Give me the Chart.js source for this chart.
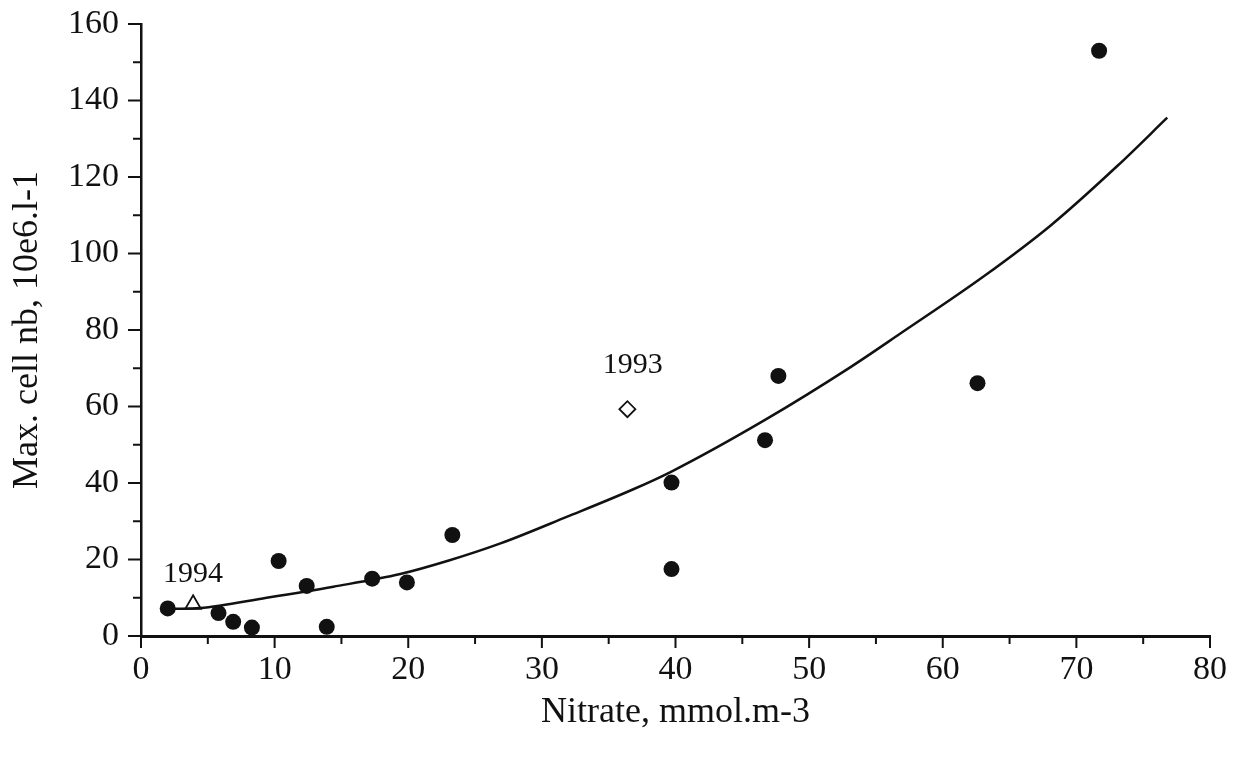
<!DOCTYPE html>
<html>
<head>
<meta charset="utf-8">
<script src="https://cdn.jsdelivr.net/npm/chart.js@4.4.1/dist/chart.umd.min.js"></script>
<style>
  html, body { margin: 0; padding: 0; background: #fff; }
  #chart { display: block; }
</style>
</head>
<body>
<canvas id="chart" width="1248" height="763"></canvas>
<script>
// measured points (filled circles)
const nitrate = [2.0, 5.8, 6.9, 8.3, 10.3, 12.4, 13.9, 17.3, 19.9, 23.3, 39.7, 39.7, 46.7, 47.7, 62.6, 71.7];
const cellMax = [7.2, 6.0, 3.7, 2.2, 19.6, 13.1, 2.4, 15.0, 14.0, 26.4, 40.1, 17.5, 51.2, 68.0, 66.1, 153.0];

// single-year points
const year1994 = [{ x: 3.9, y: 8.3 }];
const year1993 = [{ x: 36.4, y: 59.3 }];

// fitted curve
const fitX = [2.4, 4.4, 9.4, 14.4, 19.4, 23.1, 26.9, 31.9, 36.8, 39.7, 46.7, 53.1, 56.8, 63.1, 68.1, 73.1, 76.8];
const fitY = [7.1, 7.3, 10.0, 12.9, 16.2, 19.8, 24.2, 31.2, 38.3, 43.0, 56.5, 70.3, 79.0, 94.1, 107.4, 123.0, 135.5];

// text labels placed in data units
const notes = [
  { text: '1994', x: 3.9, y: 16.3 },
  { text: '1993', x: 36.8, y: 70.9 }
];

const ink = '#111';
const serif = "'Liberation Serif', 'DejaVu Serif', serif";

const scatterPts = nitrate.map((v, i) => ({ x: v, y: cellMax[i] }));
const fitPts = fitX.map((v, i) => ({ x: v, y: fitY[i] }));

// draws long/short tick marks and the year labels
const extras = {
  id: 'extras',
  afterDraw(chart) {
    const { ctx, scales: { x, y } } = chart;
    ctx.save();
    ctx.strokeStyle = ink;
    ctx.lineWidth = 2;
    ctx.beginPath();
    x.ticks.forEach(t => {
      const px = x.getPixelForValue(t.value);
      const len = t.value % 10 === 0 ? 12 : 8;
      ctx.moveTo(px, y.bottom);
      ctx.lineTo(px, y.bottom + len);
    });
    y.ticks.forEach(t => {
      const py = y.getPixelForValue(t.value);
      const len = t.value % 20 === 0 ? 13 : 8;
      ctx.moveTo(x.left, py);
      ctx.lineTo(x.left - len, py);
    });
    ctx.stroke();

    ctx.fillStyle = ink;
    ctx.font = '30px ' + serif;
    ctx.textAlign = 'center';
    ctx.textBaseline = 'middle';
    notes.forEach(n => {
      ctx.fillText(n.text, x.getPixelForValue(n.x), y.getPixelForValue(n.y));
    });
    ctx.restore();
  }
};

new Chart(document.getElementById('chart'), {
  type: 'scatter',
  data: {
    datasets: [
      {
        data: fitPts,
        showLine: true,
        borderColor: ink,
        borderWidth: 2.5,
        pointRadius: 0,
        cubicInterpolationMode: 'monotone',
        fill: false
      },
      {
        data: scatterPts,
        pointStyle: 'circle',
        pointRadius: 8,
        backgroundColor: ink,
        borderColor: ink,
        borderWidth: 0
      },
      {
        data: year1994,
        pointStyle: 'triangle',
        pointRadius: 9,
        backgroundColor: '#fff',
        borderColor: ink,
        borderWidth: 1.8
      },
      {
        data: year1993,
        pointStyle: 'rectRot',
        pointRadius: 8,
        backgroundColor: '#fff',
        borderColor: ink,
        borderWidth: 1.8
      }
    ]
  },
  options: {
    responsive: false,
    animation: false,
    layout: { padding: { top: 24, right: 38, left: 0, bottom: 0 } },
    plugins: { legend: { display: false }, tooltip: { enabled: false } },
    scales: {
      x: {
        type: 'linear',
        min: 0,
        max: 80,
        afterFit(scale) { scale.height = 127; scale.paddingLeft = 0; scale.paddingRight = 0; },
        ticks: {
          stepSize: 5,
          padding: 14,
          color: ink,
          font: { family: serif, size: 34 },
          maxRotation: 0,
          autoSkip: false,
          callback: v => (v % 10 === 0 ? String(v) : '')
        },
        grid: { drawOnChartArea: false, drawTicks: false, color: 'rgba(0,0,0,0)' },
        border: { display: true, color: ink, width: 3 },
        title: {
          display: true,
          text: 'Nitrate, mmol.m-3',
          color: ink,
          font: { family: serif, size: 36 },
          padding: { top: 0, bottom: 29 }
        }
      },
      y: {
        type: 'linear',
        min: 0,
        max: 160,
        afterFit(scale) { scale.width = 141; scale.paddingTop = 0; scale.paddingBottom = 0; },
        ticks: {
          stepSize: 10,
          padding: 22,
          color: ink,
          font: { family: serif, size: 34 },
          autoSkip: false,
          callback: v => (v % 20 === 0 ? String(v) : '')
        },
        grid: { drawOnChartArea: false, drawTicks: false, color: 'rgba(0,0,0,0)' },
        border: { display: true, color: ink, width: 2.5 },
        title: {
          display: true,
          text: 'Max. cell nb, 10e6.l-1',
          color: ink,
          font: { family: serif, size: 36 },
          padding: { top: 6, bottom: 0 }
        }
      }
    }
  },
  plugins: [extras]
});
</script>
</body>
</html>
